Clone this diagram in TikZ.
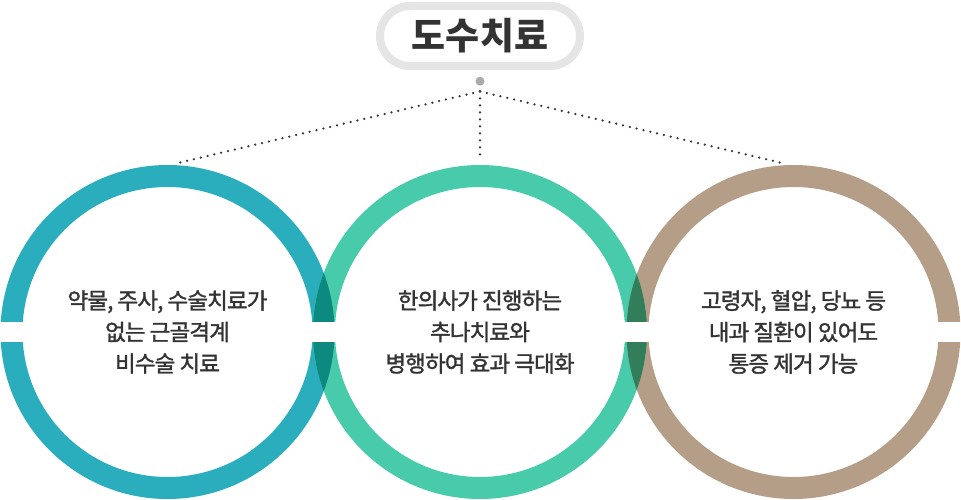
\documentclass[tikz,border=0pt]{standalone}
\usepackage{fontspec}
\setmainfont{Noto Sans CJK KR}
\newfontfamily\krmid[FakeBold=1.5,LetterSpace=-4]{Noto Sans CJK KR}
\usepackage{tikz}
\usetikzlibrary{positioning}

\definecolor{ringteal}{RGB}{42,174,190}
\definecolor{ringgreen}{RGB}{72,203,170}
\definecolor{ringbrown}{RGB}{181,158,135}
\definecolor{mixteal}{RGB}{12,138,127}
\definecolor{mixbrown}{RGB}{51,126,90}
\definecolor{pillgray}{RGB}{229,229,229}
\definecolor{hubgray}{RGB}{170,170,170}
\definecolor{txtgray}{RGB}{51,51,51}

\begin{document}
\begin{tikzpicture}[x=1pt,y=1pt]
	\tikzstyle{ring} = [draw, circle, line width=22pt, minimum size=312pt, inner sep=0pt, align=center, text=txtgray, font=\krmid\fontsize{22.5}{31.5}\selectfont]
	\tikzstyle{pill} = [draw=pillgray, fill=white, line width=8pt, rounded corners=30pt, minimum width=200pt, minimum height=60pt, text=txtgray, font=\fontsize{37}{40}\selectfont\bfseries]
	\tikzstyle{dots} = [draw=txtgray, line width=2.5pt, line cap=round, dash pattern=on 0pt off 7pt]
	
	\useasboundingbox (0,0) rectangle (961,-500);
	
	\node [pill] (title) at (480,-36) {도수치료};
	\node [circle, fill=hubgray, minimum size=9pt, inner sep=0pt, below = 6.5pt of title] (hub){};
	\node [coordinate, below = 5.5pt of hub] (split){};
	
	\node [ring, draw=ringteal] (ringA) at (167.5,-332) {약물, 주사, 수술치료가\\없는 근골격계\\비수술 치료};
	\node [ring, draw=ringgreen] (ringB) at (480,-332) {한의사가 진행하는\\추나치료와\\병행하여 효과 극대화};
	\node [ring, draw=ringbrown] (ringC) at (793.5,-332) {고령자, 혈압, 당뇨 등\\내과 질환이 있어도\\통증 제거 가능};
	
	% overlaps
	\begin{scope}[even odd rule]
		\clip (ringA.center) circle (167pt) (ringA.center) circle (145pt);
		\draw [mixteal, line width=22pt] (ringB.center) circle (156pt);
	\end{scope}
	\begin{scope}[even odd rule]
		\clip (ringB.center) circle (167pt) (ringB.center) circle (145pt);
		\draw [mixbrown, line width=22pt] (ringC.center) circle (156pt);
	\end{scope}
	
	% gaps
	\fill [white] (-1,-322) rectangle (30,-342);
	\fill [white] (305,-322) rectangle (343,-342);
	\fill [white] (618,-322) rectangle (656,-342);
	\fill [white] (931,-322) rectangle (962,-342);
	
	\node [coordinate, above right = 2pt and 10.5pt of ringA.north] (endA){};
	\node [coordinate, above = 7pt of ringB.north] (endB){};
	\node [coordinate, above left = 2pt and 11.5pt of ringC.north] (endC){};
	
	\draw [dots] (split) -- (endA);
	\draw [dots] (split) -- (endB);
	\draw [dots] (split) -- (endC);
	
\end{tikzpicture}
\end{document}
